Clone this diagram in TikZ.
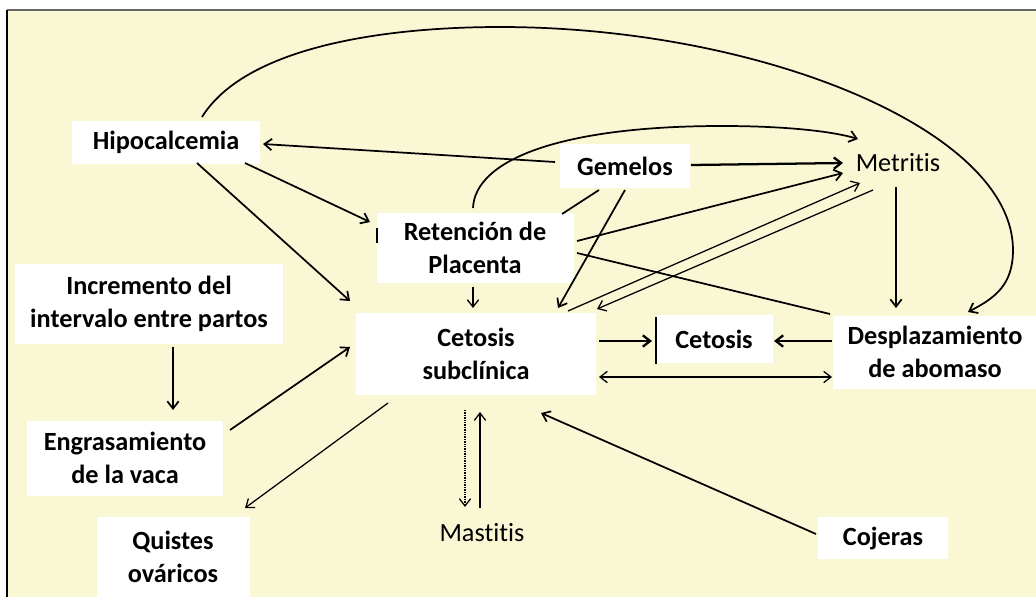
\documentclass[tikz,border=0pt]{standalone}
\usepackage{fontspec}
\setmainfont{Carlito}[Ligatures=NoCommon]
\usetikzlibrary{arrows.meta}
\definecolor{bgy}{RGB}{250,248,212}
\begin{document}
\begin{tikzpicture}[x=0.75pt,y=-0.75pt,
  wh/.style 2 args={minimum width={#1*0.75pt},minimum height={#2*0.75pt}},
  bx/.style={fill=white,inner sep=0pt,align=center,font=\bfseries\fontsize{19.7}{24.5}\selectfont},
  plain/.style={inner sep=0pt,align=center,font=\fontsize{19.7}{24.5}\selectfont},
  tip/.tip={Straight Barb[length=5.5pt,width=8.5pt]},
  arr/.style={line width=1.3pt,-tip},
  thk/.style={line width=1.7pt,-tip},
  thn/.style={line width=0.95pt,-tip},
  ln/.style={line width=1.3pt}]
\useasboundingbox (0,0) rectangle (1036,597);
\fill[white] (0,0) rectangle (1036,597);
\fill[bgy] (7,10) rectangle (1036,597);
\draw[gray!80!black,line width=1.2pt] (7,10) -- (1036,10);
\draw[black,line width=1.4pt] (7,10) -- (7,597);

% nodes
\node[bx,wh={188}{43}] (hipo) at (166,142) {Hipocalcemia};
\node[bx,wh={130}{44}] (gem) at (625,166) {Gemelos};
\node[plain] (met) at (898,163) {Metritis};
\node[bx,wh={197}{70}] (ret) at (475,248) {Retención de\\Placenta};
\node[bx,wh={268}{80}] (inc) at (149,304) {Incremento del\\intervalo entre partos};
\node[bx,wh={240}{82}] (cs) at (476,354) {Cetosis\\subclínica};
\node[bx,wh={117}{48}] (ceto) at (714,339) {Cetosis};
\node[bx,wh={204}{73}] (desp) at (935,352) {Desplazamiento\\de abomaso};
\node[bx,wh={196}{75}] (eng) at (125,458) {Engrasamiento\\de la vaca};
\node[bx,wh={153}{80}] (quis) at (173,557) {Quistes\\ováricos};
\node[plain] (mast) at (482,533) {Mastitis};
\node[bx,wh={130}{42}] (coj) at (883,538) {Cojeras};

% big curve Hipocalcemia -> Desplazamiento
\draw[arr] ([shift={(36,-25)}]hipo.center) .. controls (245,48) and (380,27) .. (500,27)
  .. controls (760,27) and (1013,130) .. (1013,250)
  .. controls (1013,285) and (995,298) .. ([shift={(33,-40)}]desp.center);
% Retencion -> Metritis curve
\draw[arr] ([shift={(-2,-40)}]ret.center) .. controls (475,160) and (560,126) .. (722,126)
  .. controls (790,126) and (835,132) .. ([shift={(-40,-24)}]met.center);

\draw[arr] ([shift={(-70,-4)}]gem.center) -- ([shift={(97,2)}]hipo.center);
\draw[arr] ([shift={(79,21)}]hipo.center) -- ([shift={(-105,-26)}]ret.center);
\draw[arr] ([shift={(31,21)}]hipo.center) -- ([shift={(-126,-53)}]cs.center);
\draw[thk] ([shift={(66,-1)}]gem.center) -- ([shift={(-55,0)}]met.center);
\draw[arr] ([shift={(102,-7)}]ret.center) -- ([shift={(-55,10)}]met.center);
\draw[thn] ([shift={(92,-43)}]cs.center) -- ([shift={(-38,20)}]met.center);
\draw[thn] ([shift={(-25,27)}]met.center) -- ([shift={(121,-45)}]cs.center);
\draw[arr] ([shift={(0,24)}]gem.center) -- ([shift={(82,-46)}]cs.center);
\draw[ln] ([shift={(-26,24)}]gem.center) -- ([shift={(87,-34)}]ret.center);
\draw[ln] ([shift={(102,5)}]ret.center) -- ([shift={(-105,-38)}]desp.center);
\draw[arr] ([shift={(-2,24)}]met.center) -- ([shift={(-39,-44)}]desp.center);
\draw[thn] ([shift={(-2,39)}]ret.center) -- ([shift={(-3,-46)}]cs.center);
\draw[thk] ([shift={(123,-13)}]cs.center) -- ([shift={(-62,2)}]ceto.center);
\draw[thk] ([shift={(-103,-11)}]desp.center) -- ([shift={(60,2)}]ceto.center);
\draw[line width=0.95pt,tip-tip] ([shift={(123,23)}]cs.center) -- ([shift={(-103,25)}]desp.center);
\draw[arr] ([shift={(24,43)}]inc.center) -- ([shift={(48,-48)}]eng.center);
\draw[arr] ([shift={(105,-28)}]eng.center) -- ([shift={(-126,-7)}]cs.center);
\draw[thn] ([shift={(-88,49)}]cs.center) -- ([shift={(72,-49)}]quis.center);
\draw[thn,dash pattern=on 1.1pt off 0.7pt] ([shift={(-11,56)}]cs.center) -- ([shift={(-17,-26)}]mast.center);
\draw[thn] ([shift={(-2,-25)}]mast.center) -- ([shift={(4,58)}]cs.center);
\draw[arr] ([shift={(-67,-4)}]coj.center) -- ([shift={(65,59)}]cs.center);

% small marks
\draw[line width=1pt] ([shift={(-98,-20)}]ret.center) -- ([shift={(-98,-5)}]ret.center);
\draw[line width=1pt] ([shift={(-58,-22)}]ceto.center) -- ([shift={(-58,25)}]ceto.center);
\end{tikzpicture}
\end{document}
